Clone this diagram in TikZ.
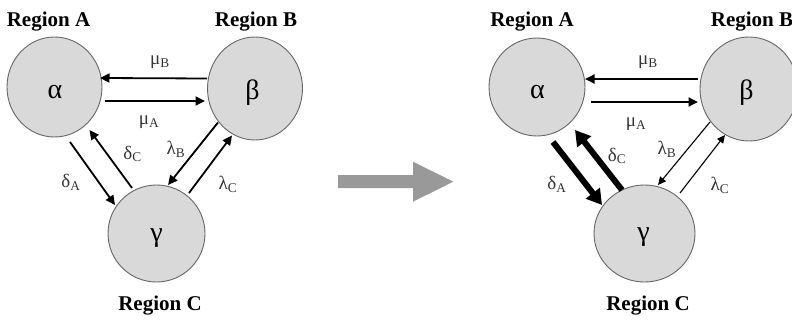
\documentclass[tikz,border=0pt]{standalone}
\usepackage{fontspec}
\setmainfont{Liberation Serif}
\usetikzlibrary{arrows.meta,shapes.geometric}
\begin{document}
\begin{tikzpicture}[x=1pt,y=-1pt,
  region/.style={ellipse, draw=black!60, line width=0.9pt, fill=black!15, inner sep=0pt},
  regname/.style={font=\bfseries\fontsize{21}{22}\selectfont, inner sep=0pt},
  greek/.style={font=\fontsize{28}{30}\selectfont, inner sep=0pt},
  rate/.style={font=\fontsize{19}{20}\selectfont, inner sep=0pt, text=black!80},
  arr/.style={line width=1.8pt, -{Triangle[length=9.5pt,width=9pt]}},
  thinarr/.style={line width=1.1pt, -{Triangle[length=8pt,width=7.5pt]}},
  thickarr/.style={line width=6pt, -{Triangle[length=15pt,width=17pt]}}
]
\useasboundingbox (0,0) rectangle (792,323);

% ---------- left diagram ----------
\node[region, minimum width=95pt, minimum height=100pt] (a) at (54.5,87) {};
\node[region, minimum width=95pt, minimum height=103pt] (b) at (255,88.5) {};
\node[region, minimum width=97pt, minimum height=97pt] (c) at (156.5,233.5) {};
\node[greek] (ta) at (55,92.5) {α};
\node[greek] (tb) at (252.5,92.5) {β};
\node[greek] (tc) at (156.5,238) {γ};
\node[regname] (la) at (48.5,21.5) {Region A};
\node[regname] (lb) at (256,21.5) {Region B};
\node[regname] (lc) at (160,305.5) {Region C};

\draw[arr] ([shift={(-48,-10)}]b.center) -- ([shift={(45.5,-9)}]a.center);
\draw[arr] ([shift={(50.5,14)}]a.center) -- ([shift={(-50,12.5)}]b.center);
\draw[arr] ([shift={(15.5,55)}]a.center) -- ([shift={(-41.5,-28.5)}]c.center);
\draw[arr] ([shift={(-24.5,-45.5)}]c.center) -- ([shift={(35,43)}]a.center);
\draw[arr] ([shift={(-37,34)}]b.center) -- ([shift={(11.5,-48.5)}]c.center);
\draw[arr] ([shift={(32.5,-40.5)}]c.center) -- ([shift={(-23,47)}]b.center);

\node[rate] (mb1) at (160,62) {μ\textsubscript{B}};
\node[rate] (ma1) at (149,122) {μ\textsubscript{A}};
\node[rate] (dc1) at (132.5,154) {δ\textsubscript{C}};
\node[rate] (da1) at (71,182) {δ\textsubscript{A}};
\node[rate] (lb1) at (176,149) {λ\textsubscript{B}};
\node[rate] (lc1) at (228,184) {λ\textsubscript{C}};

% ---------- transition arrow ----------
\fill[black!40] (338,175.2) -- (413,175.2) -- (413,161.7) -- (453.3,181.7)
  -- (413,201.7) -- (413,188.2) -- (338,188.2) -- cycle;

% ---------- right diagram ----------
\node[region, minimum width=96pt, minimum height=98pt] (a2) at (537,87) {};
\node[region, minimum width=98pt, minimum height=104pt] (b2) at (749,89) {};
\node[region, minimum width=101pt, minimum height=97pt] (c2) at (644.5,233.5) {};
\node[greek] (ta2) at (537.5,92.5) {α};
\node[greek] (tb2) at (746.5,92.5) {β};
\node[greek] (tc2) at (643.5,237.5) {γ};
\node[regname] (ra) at (532,21.5) {Region A};
\node[regname] (rb) at (752,21.5) {Region B};
\node[regname] (rc) at (648,305.5) {Region C};

\draw[arr] ([shift={(-51,-10)}]b2.center) -- ([shift={(48,-8)}]a2.center);
\draw[arr] ([shift={(54,15)}]a2.center) -- ([shift={(-51,13)}]b2.center);
\draw[thickarr] ([shift={(16,55)}]a2.center) -- ([shift={(-42.5,-28.5)}]c2.center);
\draw[thickarr] ([shift={(-22.5,-43.5)}]c2.center) -- ([shift={(38,43)}]a2.center);
\draw[thinarr] ([shift={(-39,33)}]b2.center) -- ([shift={(13.5,-48.5)}]c2.center);
\draw[thinarr] ([shift={(35.5,-40.5)}]c2.center) -- ([shift={(-24,46)}]b2.center);

\node[rate] (mb2) at (648,62) {μ\textsubscript{B}};
\node[rate] (ma2) at (636,124) {μ\textsubscript{A}};
\node[rate] (dc2) at (617,156) {δ\textsubscript{C}};
\node[rate] (da2) at (557,184) {δ\textsubscript{A}};
\node[rate] (lb2) at (667,149) {λ\textsubscript{B}};
\node[rate] (lc2) at (720,185) {λ\textsubscript{C}};
\end{tikzpicture}
\end{document}
